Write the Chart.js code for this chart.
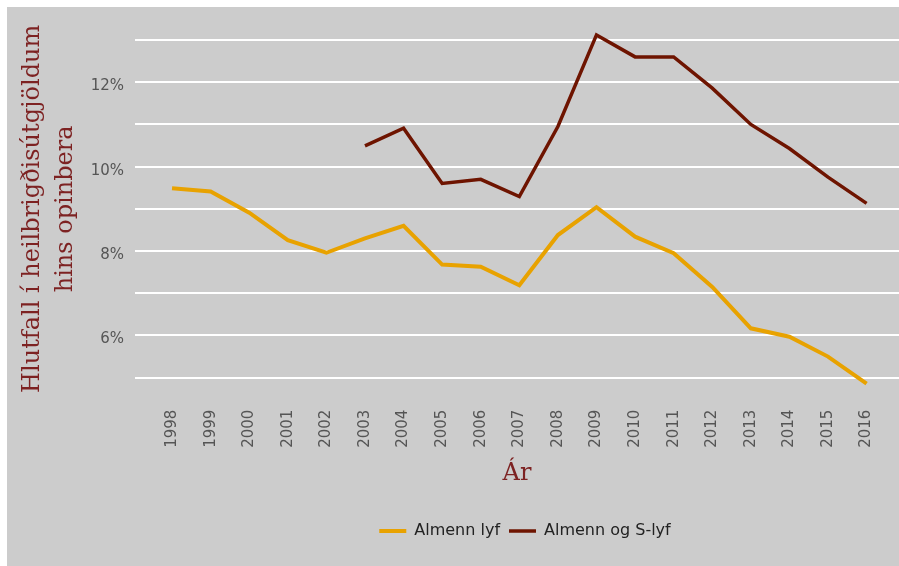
<!DOCTYPE html>
<html lang="is">
<head>
  <meta charset="UTF-8" />
  <title>Hlutfall lyfja í heilbrigðisútgjöldum</title>
  <script src="https://cdn.jsdelivr.net/npm/chart.js"></script>
  <style>
    body {
      margin: 0;
      background: #ffffff;
    }
    .wrap {
      position: absolute;
      left: 7px;
      top: 7px;
      width: 892px;
      height: 559px;
      background: #cccccc;
    }
  </style>
</head>
<body>
  <div class="wrap">
    <canvas id="chart"></canvas>
  </div>

  <script>
    // gögn lesin af myndinni (% af heilbrigðisútgjöldum hins opinbera)
    const years = [1998, 1999, 2000, 2001, 2002, 2003, 2004, 2005, 2006, 2007,
                   2008, 2009, 2010, 2011, 2012, 2013, 2014, 2015, 2016];
    const almennLyf = [9.49, 9.41, 8.91, 8.26, 7.96, 8.30, 8.60, 7.68, 7.63, 7.19,
                       8.38, 9.04, 8.34, 7.95, 7.15, 6.17, 5.97, 5.50, 4.86];
    const almennOgSLyf = [null, null, null, null, null, 10.49, 10.91, 9.60, 9.70, 9.29,
                          10.95, 13.12, 12.60, 12.60, 11.86, 11.00, 10.43, 9.75, 9.13];
    const seriesNames = ['Almenn lyf', 'Almenn og S-lyf'];
    const yTitle = ['Hlutfall í heilbrigðisútgjöldum', 'hins opinbera'];
    const xTitle = 'Ár';

    const toPoints = vals => years.map((yr, i) => ({ x: yr, y: vals[i] }));

    Chart.defaults.font.family = "'DejaVu Sans', sans-serif";
    Chart.defaults.color = '#555555';

    // skýringin er aðeins hægra megin við miðju teiknisvæðisins
    const nudgeLegend = {
      id: 'nudgeLegend',
      afterLayout(chart) {
        chart.legend.left += 8;
        chart.legend.right += 8;
      }
    };

    new Chart(document.getElementById('chart'), {
      type: 'line',
      data: {
        datasets: [
          {
            label: seriesNames[0],
            data: toPoints(almennLyf),
            borderColor: '#e8a200',
            backgroundColor: '#e8a200',
            borderWidth: 4,
            pointRadius: 0,
            tension: 0,
            clip: false
          },
          {
            label: seriesNames[1],
            data: toPoints(almennOgSLyf),
            borderColor: '#6e1400',
            backgroundColor: '#6e1400',
            borderWidth: 3.5,
            pointRadius: 0,
            tension: 0,
            clip: false
          }
        ]
      },
      options: {
        responsive: true,
        maintainAspectRatio: false,
        animation: false,
        layout: { padding: { top: 33, left: 0, right: 0, bottom: 17 } },
        plugins: {
          tooltip: { enabled: false },
          legend: {
            position: 'bottom',
            fullSize: false,
            labels: {
              usePointStyle: true,
              pointStyle: 'line',
              pointStyleWidth: 27,
              padding: 9,
              color: '#222222',
              font: { size: 16 }
            }
          }
        },
        scales: {
          x: {
            type: 'linear',
            min: 1997.04,
            max: 2016.84,
            grid: { display: false },
            border: { display: false },
            ticks: {
              stepSize: 1,
              includeBounds: false,
              autoSkip: false,
              maxRotation: 90,
              minRotation: 90,
              padding: 24,
              color: '#555555',
              font: { size: 15 },
              callback: v => String(v)
            },
            title: {
              display: true,
              text: xTitle,
              color: '#7d2222',
              font: { family: "'DejaVu Serif', serif", size: 24 },
              padding: { top: 0, bottom: 26 }
            },
            afterFit: s => {
              s.height = 136.3;
              s.paddingLeft = 0;
              s.paddingRight = 0;
            }
          },
          y: {
            min: 5,
            max: 13,
            grid: { color: '#ffffff', lineWidth: 2, drawTicks: false },
            border: { display: false },
            ticks: {
              stepSize: 1,
              padding: 11,
              labelOffset: 4,
              color: '#555555',
              font: { size: 15 },
              callback: v => (v % 2 === 0 ? v + '%' : '')
            },
            title: {
              display: true,
              text: yTitle,
              color: '#7d2222',
              font: { family: "'DejaVu Serif', serif", size: 24, lineHeight: 1.4 },
              padding: { top: 8.75, bottom: 0 }
            },
            afterFit: s => { s.width = 128; }
          }
        }
      },
      plugins: [nudgeLegend]
    });
  </script>
</body>
</html>
